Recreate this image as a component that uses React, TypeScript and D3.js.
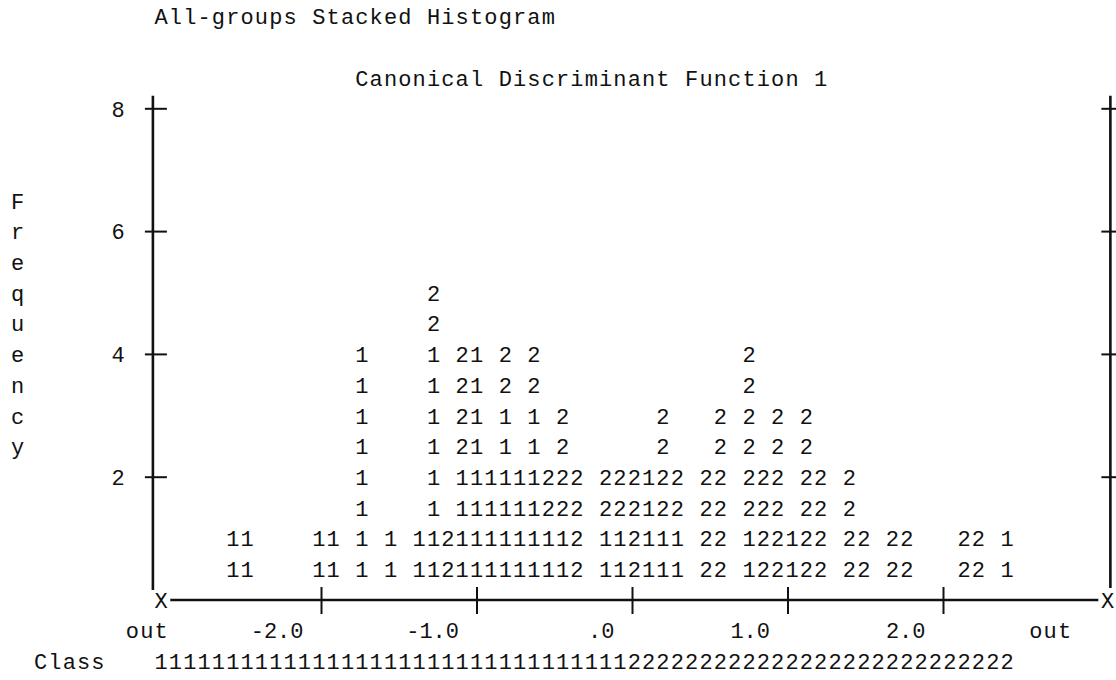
import * as d3 from 'd3';

// histogram columns (bin index, 0 = left "X" of the axis) and stacked counts per group
const bins = [5, 6, 11, 12, 14, 16, 18, 19, 20, 21, 22, 23, 24, 25, 26, 27, 28, 29, 31, 32, 33, 34, 35, 36, 38, 39, 41, 42, 43, 44, 45, 46, 48, 49, 51, 52, 56, 57, 59];
const group1 = [1, 1, 1, 1, 4, 1, 1, 4, 0, 2, 4, 2, 3, 2, 3, 1, 1, 0, 1, 1, 0, 2, 1, 1, 0, 0, 1, 0, 0, 1, 0, 0, 0, 0, 0, 0, 0, 0, 1];
const group2 = [0, 0, 0, 0, 0, 0, 0, 1, 1, 2, 0, 0, 1, 0, 1, 1, 2, 2, 1, 1, 2, 0, 2, 1, 2, 3, 3, 2, 3, 0, 3, 2, 2, 1, 1, 1, 1, 1, 0];
const groupSymbols = ['1', '2'];

const yTicks = [2, 4, 6, 8];
const xTicks = [-2, -1, 0, 1, 2];
const xTickLabels = ['-2.0', '-1.0', '.0', '1.0', '2.0'];

// territorial map row: class assigned to each bin
const classGroups = ['1', '2'];
const classBinCounts = [33, 27];

const title = 'All-groups Stacked Histogram';
const fnTitle = 'Canonical Discriminant Function 1';
const yTitle = 'Frequency';

const W = 1116, H = 680;
const cell = 14.34;
const FONT = "'Liberation Mono', 'DejaVu Sans Mono', monospace";
const FS = 22;
const INK = '#111';

export default function App() {
  const xBin = d3.scaleLinear().domain([0, 66]).range([153.9, 153.9 + 66 * cell]);
  const yFreq = d3.scaleLinear().domain([0, 8]).range([600, 108.8]);
  const xVal = d3.scaleLinear().domain([-2, 2]).range([321.5, 943.5]);
  const yLine = (r: number) => yFreq(-r / 2);

  const mono = (str: string, bin: number, y: number, key: string) =>
    str.split('').map((ch, i) =>
      ch === ' ' ? null : (
        <text key={key + i} x={xBin(bin + i + 0.5)} y={y} dy="0.35em"
          textAnchor="middle">{ch}</text>
      ));

  const table = bins.map((b, i) => ({ bin: b, g1: group1[i], g2: group2[i] }));
  const series = d3.stack<any>().keys(['g1', 'g2'])(table);

  const marks: any[] = [];
  series.forEach((s, gi) => {
    s.forEach((d: any) => {
      for (let k = d[0] + 1; k <= d[1]; k++) {
        [k, k - 0.5].forEach((f, j) => {
          marks.push(
            <text key={`m${gi}-${d.data.bin}-${k}-${j}`} x={xBin(d.data.bin + 0.5)} y={yFreq(f)}
              dy="0.35em" textAnchor="middle">{groupSymbols[gi]}</text>
          );
        });
      }
    });
  });

  let classStr = '';
  classGroups.forEach((g, i) => { classStr += g.repeat(classBinCounts[i]); });

  const leftX = xBin(0) - 1;
  const rightX = xBin(66.7);
  const axisTop = yFreq(8) - 13;

  return (
    <svg width={W} height={H} style={{ position: 'absolute', left: 0, top: 0, background: '#fff' }}
      fontFamily={FONT} fontSize={FS} fill={INK}>
      {mono(title, 0, yLine(-19), 't')}
      {mono(fnTitle, 14, yLine(-17), 'f')}
      {yTitle.split('').map((ch, i) => (
        <text key={'yt' + i} x={xBin(-10 + 0.5)} y={yFreq(6.5 - i * 0.5)} dy="0.35em" textAnchor="middle">{ch}</text>
      ))}

      {/* vertical axes */}
      <line x1={leftX} x2={leftX} y1={axisTop} y2={yFreq(0) - 10} stroke={INK} strokeWidth={2.6} />
      <line x1={rightX} x2={rightX} y1={axisTop} y2={yFreq(0) - 12} stroke={INK} strokeWidth={2.6} />
      {yTicks.map(t => (
        <g key={'yk' + t}>
          <line x1={leftX - 8} x2={leftX + 14} y1={yFreq(t)} y2={yFreq(t)} stroke={INK} strokeWidth={2} />
          <line x1={rightX - 9} x2={rightX + 6} y1={yFreq(t)} y2={yFreq(t)} stroke={INK} strokeWidth={2} />
          {mono(String(t), -3, yFreq(t), 'yl' + t)}
        </g>
      ))}

      {marks}

      {/* horizontal axis */}
      {mono('X', 0, yFreq(0), 'xl')}
      {mono('X', 66, yFreq(0), 'xr')}
      <line x1={xBin(1) + 2} x2={xBin(66) - 2} y1={yFreq(0)} y2={yFreq(0)} stroke={INK} strokeWidth={2.6} />
      {xTicks.map((v, i) => (
        <g key={'xk' + v}>
          <line x1={xVal(v)} x2={xVal(v)} y1={yFreq(0) - 13} y2={yFreq(0) + 14} stroke={INK} strokeWidth={2} />
          <text x={xVal(v) - 18} y={yLine(1)} dy="0.35em" textAnchor="end">{xTickLabels[i]}</text>
        </g>
      ))}
      {mono('out', -2, yLine(1), 'ol')}
      {mono('out', 61, yLine(1), 'or')}

      {mono('Class', -8.4, yLine(2), 'cl')}
      {mono(classStr, 0, yLine(2), 'cs')}
    </svg>
  );
}
